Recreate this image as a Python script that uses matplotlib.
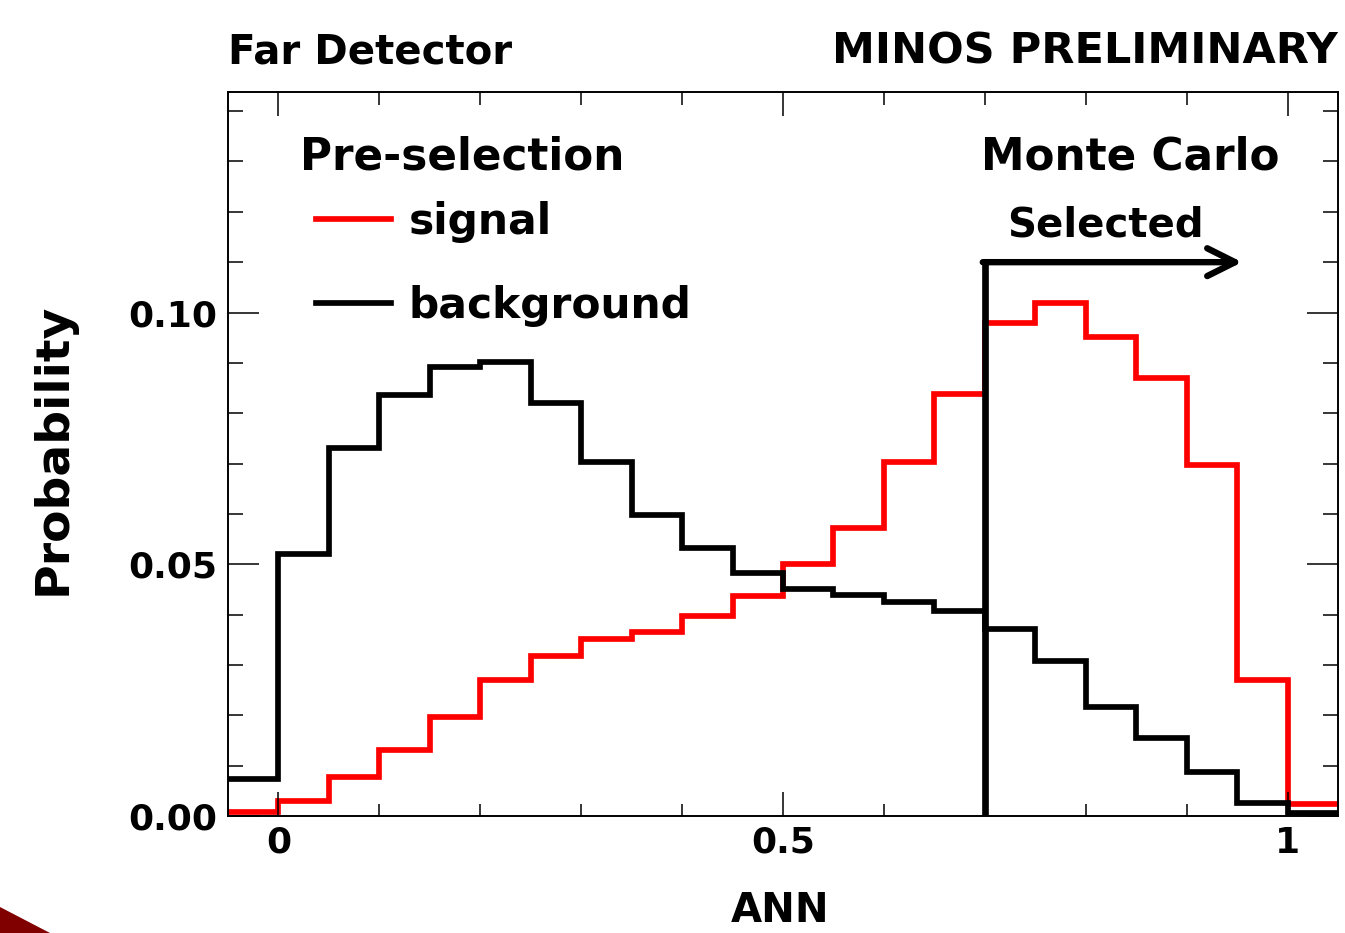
import matplotlib.pyplot as plt
import numpy as np
from matplotlib.patches import Polygon
from matplotlib.ticker import MultipleLocator, FixedLocator, FixedFormatter

plt.rcParams['font.family'] = ['DejaVu Sans']
plt.rcParams['font.weight'] = 'bold'

# ANN bins, width 0.05, from -0.05 to 1.05
edges = np.round(np.arange(-0.05, 1.0501, 0.05), 2)

signal = [0.0007, 0.0030, 0.0078, 0.0131, 0.0197, 0.0271, 0.0318, 0.0351,
          0.0365, 0.0397, 0.0437, 0.0500, 0.0573, 0.0703, 0.0839, 0.0980,
          0.1019, 0.0952, 0.0869, 0.0697, 0.0271, 0.0023]
background = [0.0073, 0.0520, 0.0731, 0.0836, 0.0891, 0.0902, 0.0821, 0.0704,
              0.0598, 0.0532, 0.0483, 0.0451, 0.0439, 0.0426, 0.0408, 0.0371,
              0.0308, 0.0217, 0.0154, 0.0088, 0.0026, 0.0005]

cut = 0.7
cut_height = 0.110
arrow_end = 0.955

xticks = [0, 0.5, 1]
xticklabels = ['0', '0.5', '1']
yticks = [0.0, 0.05, 0.10]
yticklabels = ['0.00', '0.05', '0.10']

fig = plt.figure(figsize=(13.45, 9.33), dpi=100)
ax = fig.add_axes([0.1695, 0.1254, 0.8253, 0.776])

ax.stairs(signal, edges, baseline=None, color='#ff0000', lw=4.1, label='signal')
ax.stairs(background, edges, baseline=None, color='black', lw=4.1, label='background')

# selection cut
ax.plot([cut, cut], [0, cut_height], color='black', lw=4.8, solid_capstyle='butt')
ax.annotate('', xy=(arrow_end, cut_height), xytext=(cut - 0.002, cut_height),
            arrowprops=dict(arrowstyle='->,head_length=0.4,head_width=0.2',
                            lw=4.6, color='black', mutation_scale=50,
                            shrinkA=0, shrinkB=0))

ax.set_xlim(-0.05, 1.05)
ax.set_ylim(0, 0.1438)

ax.xaxis.set_major_locator(FixedLocator(xticks))
ax.xaxis.set_major_formatter(FixedFormatter(xticklabels))
ax.xaxis.set_minor_locator(MultipleLocator(0.1))
ax.yaxis.set_major_locator(FixedLocator(yticks))
ax.yaxis.set_major_formatter(FixedFormatter(yticklabels))
ax.yaxis.set_minor_locator(MultipleLocator(0.01))

ax.tick_params(which='both', direction='in', top=True, right=True, width=1.1)
ax.tick_params(axis='x', which='major', length=17, pad=7, labelsize=26)
ax.tick_params(axis='x', which='minor', length=9)
ax.tick_params(axis='y', which='major', length=22, pad=8, labelsize=26)
ax.tick_params(axis='y', which='minor', length=11)
for s in ax.spines.values():
    s.set_linewidth(1.4)

ax.set_xlabel('ANN', fontsize=29, fontweight='bold')
ax.xaxis.set_label_coords(0.497, -0.147)
ax.xaxis.label.set_va('baseline')
ax.set_ylabel('Probability', fontsize=34, fontweight='bold')
ax.yaxis.set_label_coords(-0.146, 0.507)
ax.yaxis.label.set_va('baseline')

ax.text(0.0218, 0.1285, 'Pre-selection', fontsize=31.5, fontweight='bold',
        ha='left', va='baseline')
ax.text(0.992, 0.1285, 'Monte Carlo', fontsize=31.5, fontweight='bold',
        ha='right', va='baseline')
ax.text(0.820, 0.115, 'Selected', fontsize=29, fontweight='bold',
        ha='center', va='baseline')

leg = ax.legend(loc='upper left', bbox_to_anchor=(0.0793, 0.850), frameon=False,
                borderpad=0, borderaxespad=0, handlelength=1.77,
                handletextpad=0.41, labelspacing=1.0,
                prop={'weight': 'bold', 'size': 30.5})

fig.text(0.1695, 0.932, 'Far Detector', fontsize=29, fontweight='bold',
         ha='left', va='baseline')
fig.text(0.9948, 0.932, 'MINOS PRELIMINARY', fontsize=31, fontweight='bold',
         ha='right', va='baseline')

# slide decoration in the bottom-left corner
fig.patches.append(Polygon([(0, 1 - 907 / 933), (0, 0), (50 / 1345, 0)],
                           closed=True, transform=fig.transFigure,
                           facecolor='#800000', edgecolor='none'))

fig.savefig('out.png', dpi=100)
